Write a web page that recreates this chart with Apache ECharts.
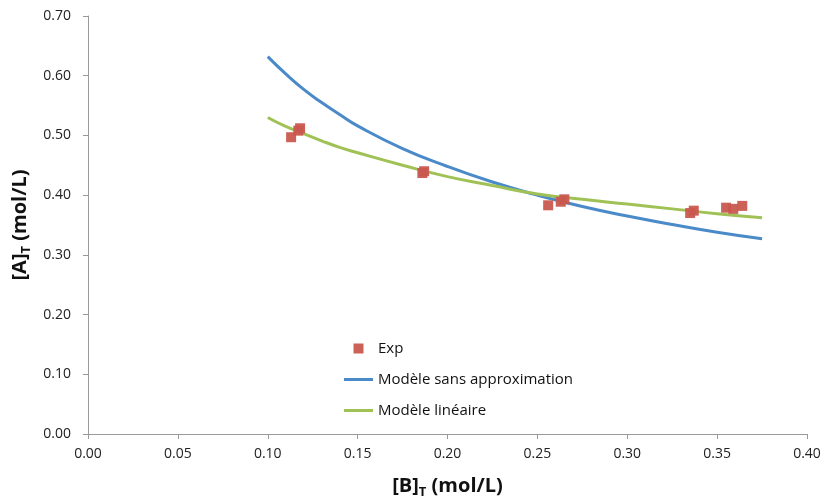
<!DOCTYPE html>
<html><head><meta charset="utf-8">
<script src="https://cdn.jsdelivr.net/npm/echarts@6/dist/echarts.min.js"></script>
<style>html,body{margin:0;padding:0;background:#fff}#c{width:821px;height:499px}</style>
</head><body><div id="c"></div>
<script>
// Experimental points [B]T, [A]T
const expB = [0.113, 0.117, 0.118, 0.186, 0.187, 0.256, 0.263, 0.265, 0.335, 0.337, 0.355, 0.359, 0.364];
const expA = [0.497, 0.508, 0.512, 0.437, 0.440, 0.383, 0.389, 0.393, 0.370, 0.374, 0.379, 0.377, 0.382];
// Model curves sampled along [B]T
const modelB = [0.100, 0.110, 0.120, 0.130, 0.140, 0.150, 0.175, 0.200, 0.225, 0.250, 0.275, 0.300, 0.325, 0.350, 0.375];
const modelFull = [0.632, 0.603, 0.577, 0.555, 0.535, 0.516, 0.478, 0.448, 0.422, 0.400, 0.381, 0.365, 0.351, 0.338, 0.327];
const modelLin = [0.530, 0.515, 0.503, 0.491, 0.480, 0.471, 0.450, 0.431, 0.416, 0.402, 0.393, 0.385, 0.377, 0.369, 0.362];
const xTicks = [0, 0.40, 0.05];
const yTicks = [0, 0.70, 0.10];
const names = ['Exp', 'Modèle sans approximation', 'Modèle linéaire'];

const pair = (xs, ys) => xs.map((x, i) => [x, ys[i]]);
const font = 'Open Sans, Liberation Sans, sans-serif';
const titleStyle = {color: '#111', fontSize: 20, fontWeight: 'bold', fontFamily: font,
  rich: {sub: {fontSize: 13, fontWeight: 'bold', fontFamily: font, color: '#111', padding: [12, 0, 0, 0]}}};
const chart = echarts.init(document.getElementById('c'));
chart.setOption({
  animation: false,
  grid: {left: 88, right: 14, top: 16, bottom: 65, containLabel: false, outerBoundsMode: 'none'},
  xAxis: {
    type: 'value', min: xTicks[0], max: xTicks[1], interval: xTicks[2],
    axisLine: {show: true, lineStyle: {color: '#9a9a9a'}},
    axisTick: {show: true, length: 5, lineStyle: {color: '#9a9a9a'}},
    splitLine: {show: false},
    axisLabel: {color: '#222', fontSize: 14, fontFamily: font, margin: 13, formatter: v => v.toFixed(2)},
    name: '[B]{sub|T} (mol/L)', nameLocation: 'middle', nameGap: 40,
    nameTextStyle: titleStyle
  },
  yAxis: {
    type: 'value', min: yTicks[0], max: yTicks[1], interval: yTicks[2],
    axisLine: {show: true, lineStyle: {color: '#9a9a9a'}},
    axisTick: {show: true, length: 5, lineStyle: {color: '#9a9a9a'}},
    splitLine: {show: false},
    axisLabel: {color: '#222', fontSize: 14, fontFamily: font, margin: 17, formatter: v => v.toFixed(2)},
    name: '[A]{sub|T} (mol/L)', nameLocation: 'middle', nameGap: 54, nameRotate: 90,
    nameTextStyle: titleStyle
  },
  legend: {
    orient: 'vertical', left: 344, top: 341, padding: 0,
    itemWidth: 29, itemHeight: 10, itemGap: 16,
    textStyle: {color: '#111', fontSize: 15, fontFamily: font, lineHeight: 15},
    data: [
      {name: names[0], icon: 'path://M0,0H10V10H0Z'},
      {name: names[1], icon: 'path://M0,0H29V3H0Z'},
      {name: names[2], icon: 'path://M0,0H29V3H0Z'}
    ]
  },
  series: [
    {name: names[1], type: 'line', smooth: true, symbol: 'none', data: pair(modelB, modelFull),
      lineStyle: {color: '#4a8ac8', width: 3}, itemStyle: {color: '#4a8ac8'}, z: 2},
    {name: names[2], type: 'line', smooth: true, symbol: 'none', data: pair(modelB, modelLin),
      lineStyle: {color: '#9fc155', width: 3}, itemStyle: {color: '#9fc155'}, z: 3},
    {name: names[0], type: 'scatter', symbol: 'rect', symbolSize: 10, data: pair(expB, expA),
      itemStyle: {color: '#c9584f', opacity: 0.95}, z: 4}
  ]
});
</script></body></html>
